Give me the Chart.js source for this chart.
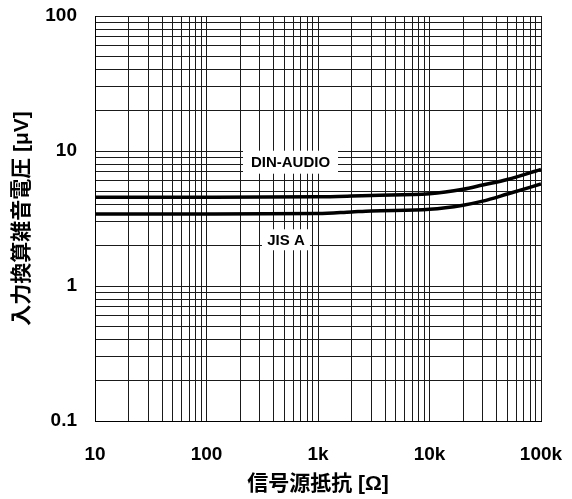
<!DOCTYPE html>
<html>
<head>
<meta charset="utf-8">
<script src="https://cdn.jsdelivr.net/npm/chart.js@4"></script>
<style>
html,body{margin:0;padding:0;background:#fff;}
#wrap{width:572px;height:499px;position:relative;}
</style>
</head>
<body>
<div id="wrap"><canvas id="c" width="572" height="499"></canvas></div>
<script>
// Source resistance (Ω)
const resistance = [10, 100, 1000, 2000, 3000, 10000, 20000, 30000, 50000, 100000];
// Input-referred noise voltage (µV)
const dinAudio = [4.55, 4.55, 4.58, 4.64, 4.69, 4.82, 5.20, 5.60, 6.15, 7.30];
const jisA     = [3.42, 3.42, 3.44, 3.54, 3.60, 3.70, 3.97, 4.25, 4.80, 5.70];
const seriesNames = ['DIN-AUDIO', 'JIS A'];
// Axis tick labels
const xTickLabels = {10: '10', 100: '100', 1000: '1k', 10000: '10k', 100000: '100k'};
const yTickLabels = {0.1: '0.1', 1: '1', 10: '10', 100: '100'};
const xTitle = '信号源抵抗 [Ω]';
const yTitle = '入力換算雑音電圧 [μV]';
// Curve label anchors (data coordinates)
const curveLabels = [
  {text: 'DIN-AUDIO', x: 567, y: 8.26, w: 95, h: 23},
  {text: 'JIS A', x: 516, y: 2.2, w: 48, h: 21}
];

const FONT = '"Liberation Sans", "Noto Sans CJK JP", Arial, sans-serif';

function logTicks(min, max) {
  const out = [];
  for (let e = Math.round(Math.log10(min)); Math.pow(10, e) < max; e++) {
    for (let m = 1; m <= 9; m++) out.push(Math.round(m * Math.pow(10, e) * 1e6) / 1e6);
  }
  out.push(max);
  return out;
}

const labelPlugin = {
  id: 'curveLabels',
  afterDatasetsDraw(chart) {
    const {ctx, scales: {x, y}} = chart;
    ctx.save();
    ctx.font = 'bold 15px ' + FONT;
    ctx.textAlign = 'center';
    ctx.textBaseline = 'middle';
    curveLabels.forEach(l => {
      const px = x.getPixelForValue(l.x);
      const py = y.getPixelForValue(l.y);
      ctx.fillStyle = '#fff';
      ctx.fillRect(px - l.w / 2, py - l.h / 2, l.w, l.h);
      ctx.fillStyle = '#000';
      ctx.fillText(l.text, px, py + 1);
    });
    ctx.restore();
  }
};

new Chart(document.getElementById('c'), {
  type: 'line',
  data: {
    datasets: [
      {label: seriesNames[0], data: resistance.map((r, i) => ({x: r, y: dinAudio[i]}))},
      {label: seriesNames[1], data: resistance.map((r, i) => ({x: r, y: jisA[i]}))}
    ].map(d => Object.assign(d, {
      borderColor: '#000', borderWidth: 3.5, pointRadius: 0,
      cubicInterpolationMode: 'monotone', fill: false
    }))
  },
  options: {
    responsive: false,
    animation: false,
    devicePixelRatio: 1,
    layout: {padding: {left: 0, right: 31, top: 16, bottom: 0}},
    plugins: {legend: {display: false}, tooltip: {enabled: false}},
    scales: {
      x: {
        type: 'logarithmic', min: 10, max: 100000,
        afterBuildTicks: s => { s.ticks = logTicks(10, 100000).map(v => ({value: v})); },
        afterFit: s => { s.height = 78; s.paddingLeft = 0; s.paddingRight = 0; },
        grid: {color: '#1a1a1a', lineWidth: 1, drawTicks: false},
        border: {color: '#000', width: 1},
        ticks: {
          autoSkip: false, maxRotation: 0, padding: 22, color: '#000',
          font: {family: FONT, size: 19, weight: 'bold'},
          callback: v => xTickLabels[v] || ''
        },
        title: {display: true, text: xTitle, color: '#000',
          font: {family: FONT, size: 21, weight: 'bold'}, padding: {top: 0, bottom: 2}}
      },
      y: {
        type: 'logarithmic', min: 0.1, max: 100,
        afterBuildTicks: s => { s.ticks = logTicks(0.1, 100).map(v => ({value: v})); },
        afterFit: s => { s.width = 95; s.paddingTop = 0; s.paddingBottom = 0; },
        grid: {color: '#1a1a1a', lineWidth: 1, drawTicks: false},
        border: {color: '#000', width: 1},
        ticks: {
          autoSkip: false, padding: 18, color: '#000',
          font: {family: FONT, size: 19, weight: 'bold'},
          callback: v => yTickLabels[v] || ''
        },
        title: {display: true, text: yTitle, color: '#000',
          font: {family: FONT, size: 21, weight: 'bold'}, padding: {top: 10, bottom: 0}}
      }
    }
  },
  plugins: [labelPlugin]
});
</script>
</body>
</html>
